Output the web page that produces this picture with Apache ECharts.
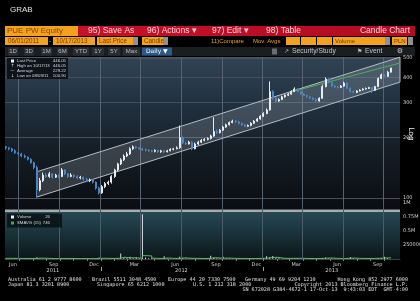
<!DOCTYPE html>
<html><head><meta charset="utf-8">
<script src="https://cdn.jsdelivr.net/npm/echarts@6/dist/echarts.min.js"></script>
<style>html,body{margin:0;padding:0;background:#000;}#c{width:420px;height:301px;}</style>
</head><body><div id="c"></div>
<script>
// ---------- DATA (weekly candles) ----------
const firstWeek = [2011, 6, 1];
const lastDate = [2013, 10, 17];
const openP = [180,178,176,172,168,166,162,160,156,150,
142,110,122,130,128,132,127,130,128,138,
132,128,130,128,126,127,124,122,123,120,
112,106,114,118,120,128,138,148,155,162,
166,176,180,178,176,174,173,172,171,173,
170,172,170,172,175,176,178,200,188,186,
190,176,186,190,194,196,198,204,215,212,
218,226,232,238,242,240,236,232,228,230,
236,242,248,256,264,275,340,315,305,310,
320,326,330,340,350,340,330,325,320,315,
310,305,315,360,392,378,362,358,356,362,
375,352,340,336,342,346,350,352,356,345,
360,395,412,405,425];
const closeP = [178,176,172,168,166,162,160,156,150,142,
110,122,130,128,132,127,130,128,138,132,
128,130,128,126,127,124,122,123,120,112,
106,114,118,120,128,138,148,155,162,166,
176,180,178,176,174,173,172,171,173,170,
172,170,172,175,176,178,200,188,186,190,
176,186,190,194,196,198,204,215,212,218,
226,232,238,242,240,236,232,228,230,236,
242,248,256,264,275,340,315,305,310,320,
326,330,340,350,340,330,325,320,315,310,
305,315,360,392,378,362,358,356,362,375,
352,340,336,342,346,350,352,356,345,360,
395,412,405,425,446.05];
const highP = [182,180,178,175,170,168,165,161,158,152,
145,126,134,133,135,133,132,131,141,139,
133,133,131,130,129,128,126,125,124,121,
114,116,120,122,130,140,150,158,165,170,
179,183,182,180,178,177,175,174,175,174,
174,173,174,177,178,181,230,203,191,193,
192,189,193,197,199,201,207,253,220,221,
229,235,241,246,245,243,238,234,233,239,
245,251,259,268,280,382,345,318,314,324,
329,334,345,357,353,343,334,328,324,319,
315,318,368,400,396,382,366,362,366,380,
378,356,344,346,349,353,356,359,358,363,
400,418,416,430,446.05];
const lowP = [174,173,170,166,164,160,158,154,148,139,
100.9,108,120,126,126,125,126,126,127,130,
126,127,126,124,124,122,120,120,118,110,
104,105,112,116,118,126,136,146,153,160,
164,174,176,174,172,171,170,169,169,168,
168,168,169,171,173,175,176,186,184,185,
173,175,184,188,192,194,196,202,208,210,
216,224,230,236,237,233,229,226,226,228,
234,240,246,254,262,273,310,300,302,308,
317,323,328,338,337,328,322,317,312,307,
302,303,313,357,374,358,354,352,354,360,
350,336,333,334,340,344,348,350,334,343,
358,392,402,403,423];
const volume = [15000,12000,10000,9000,11000,8000,10000,9000,12000,14000,
30000,15000,10000,9000,8000,10000,9000,8000,12000,9000,
8000,9000,8000,7000,9000,8000,7000,8000,9000,14000,
25000,12000,10000,9000,12000,15000,18000,100000,20000,15000,
40000,15000,30000,12000,800000,25000,15000,12000,10000,9000,
11000,50000,12000,10000,11000,14000,40000,20000,12000,10000,
15000,11000,10000,9000,10000,12000,60000,25000,15000,12000,
40000,14000,12000,10000,9000,10000,9000,8000,9000,10000,
11000,12000,14000,16000,50000,30000,55000,18000,12000,10000,
11000,12000,14000,15000,12000,10000,9000,9000,8000,9000,
10000,12000,20000,25000,15000,12000,10000,9000,10000,14000,
12000,35000,12000,10000,9000,10000,11000,10000,12000,14000,
20000,18000,40000,15000,26];
const volSma = [12000,12000,11500,11000,10500,10000,10000,9500,10000,11000,
14000,15000,13000,11000,9500,9000,9000,9000,9500,9500,
9000,8500,8500,8000,8000,8000,7500,7500,8000,9000,
12000,13000,12000,10500,10500,12000,14000,30000,28000,20000,
22000,20000,18000,16000,60000,58000,55000,15000,12000,10000,
10000,18000,16000,12000,11000,12000,18000,20000,15000,12000,
12000,12000,11000,10000,10000,11000,20000,22000,18000,14000,
16000,17000,14000,12000,10000,10000,9500,9000,9000,9000,
10000,11000,12000,14000,20000,28000,30000,28000,18000,13000,
11000,11000,12000,13000,13000,12000,10500,9500,9000,9000,
9000,10000,13000,17000,18000,15000,12000,10500,10000,11000,
12000,16000,15000,12000,10500,10000,10000,10500,11000,12000,
14000,16000,20000,20000,18000];
const priceTicks = [100, 200, 300, 400, 500];
const volTickLabels = {250000:'250000', 500000:'0.5M', 750000:'0.75M', 1000000:'1M'};
const monthLabels = ['Jun','Sep','Dec','Mar','Jun','Sep','Dec','Mar','Jun','Sep'];
const monthLabelDates = [[2011,6,17],[2011,9,17],[2011,12,17],[2012,3,17],[2012,6,17],[2012,9,17],[2012,12,17],[2013,3,17],[2013,6,17],[2013,9,17]];
const yearLabels = ['2011','2012','2013'];
const yearLabelDates = [[2011,9,15],[2012,7,1],[2013,6,5]];
const yearBreaks = [[2012,1,1],[2013,1,1]];
const quarterLines = [[2011,6,30],[2011,9,30],[2011,12,31],[2012,3,31],[2012,6,30],[2012,9,30],[2012,12,31],[2013,3,31],[2013,6,30],[2013,9,30]];
const channelDates = [[2011,8,9],[2013,11,6]];
const channelUpper = [135, 505];
const channelLower = [100.9, 379];
const trendDates = [[2013,3,4],[2013,11,6]];
const trendValues = [338, 472];
const lastPrice = 446.05;
const lastVolume = 26;
const legendRows = [['Last Price','446.05'],['High on 10/17/13','446.05'],['Average','229.22'],['Low on 08/09/11','100.90']];

// ---------- helpers ----------
const T0 = a => new Date(a[0], a[1]-1, a[2]).getTime();
const dates = closeP.map((c,i)=> i === closeP.length-1 ? T0(lastDate) : new Date(firstWeek[0], firstWeek[1]-1, firstWeek[2]+7*i).getTime());
const tMin = T0([2011,5,30]), tMax = T0([2013,11,6]);
const monthTs = monthLabelDates.map(T0), yearTs = yearLabelDates.map(T0);
const monthStarts = []; for (let y=2011,m=7; y<2013 || m<=10; ) { monthStarts.push(new Date(y,m-1,1).getTime()); m++; if (m>12){m=1;y++;} }
const lookup = (tsArr, labels) => v => { for (let k=0;k<tsArr.length;k++) if (Math.abs(tsArr[k]-v) < 43200000) return labels[k]; return ''; };

const SANS = '"Liberation Sans", Arial, sans-serif';
const DJ = '"DejaVu Sans", sans-serif';
const MONO = '"DejaVu Sans Mono", monospace';
const ORANGE = '#f2a21f', DARKTXT = '#7a3a00';
const G = [];
function R(x,y,w,h,fill,z){ G.push({type:'rect', silent:true, z:z||0, shape:{x:x,y:y,width:w,height:h}, style:{fill:fill}}); }
function T(x,y,text,size,color,align,family,z,weight){ G.push({type:'text', silent:true, z:z||10, x:x, y:y, style:{text:text, fill:color, font:(weight||'normal')+' '+size+'px '+(family||SANS), align:align||'left', verticalAlign:'middle'}}); }
const vgrad = (a,b,c) => ({type:'linear',x:0,y:0,x2:0,y2:1,colorStops:c||[{offset:0,color:a},{offset:1,color:b}]});

// title + toolbars
T(10,10,'GRAB',8,'#e4e4e4','left',SANS);
R(5,26,73,10,ORANGE);
T(7,31,'PUE PW Equity',8,'#8a4300');
R(78,26,337,10,{type:'linear',x:0,y:0,x2:1,y2:0,colorStops:[{offset:0,color:'#c8102a'},{offset:1,color:'#b00c22'}]});
T(88,31,'95) Save As',8.5,'#f6d6d8');
T(147,31,'96) Actions \u25BE',8.5,'#f6d6d8');
T(212,31,'97) Edit \u25BE',8.5,'#f6d6d8');
T(266,31,'98) Table',8.5,'#f6d6d8');
T(410,31,'Candle Chart',8.5,'#f6d6d8','right');
// row 2
R(5,37,43,8,ORANGE); T(8,41,'06/01/2011',6.3,DARKTXT);
T(49,41,'-',6.3,'#cccccc');
R(53,37,42,8,ORANGE); T(56,41,'10/17/2013',6.3,DARKTXT);
R(97,37,36,8,ORANGE); T(99,41,'Last Price',6.3,DARKTXT);
R(133,37,5,8,'#8d9298');
R(142,37,21,8,ORANGE); T(144,41,'Candle',6.3,DARKTXT);
R(163,37,5,8,'#8d9298');
T(211,41,'11)Compare',6,'#e8a030');
T(253,41,'Mov. Avgs',6,'#e8a030');
R(286,37,14,8,ORANGE); R(301,37,15,8,ORANGE); R(317,37,15,8,ORANGE);
R(333,37,52,8,ORANGE); T(335,41,'Volume',6,DARKTXT);
R(385,37,5,8,'#8d9298');
R(392,37,15,8,ORANGE); T(394,41,'PLN',6,DARKTXT);
R(408,37,5,8,'#8d9298');
// row 3
R(5,47,410,9,'#1b1e21');
[['1D',8,10],['3D',24,10],['1M',41,11],['6M',57,11],['YTD',73,16],['1Y',92,12],['5Y',108,12],['Max',123,17]].forEach(b=>{ R(b[1],47.5,b[2],8,'#2a2e33'); T(b[1]+b[2]/2,51.5,b[0],6,'#b8bcc2','center'); });
R(142,47.5,30,8,'#2a5a8c'); T(146,51.5,'Daily \u25BC',6,'#ffffff','left',DJ);
R(272,48.5,5,6,'#6a6e73');
T(284,51.5,'\u2197',6,'#c0c4c8','left',DJ);
T(292,51.5,'Security/Study',6.8,'#c0c4c8');
T(357,51.5,'\u2691',6,'#c0c4c8','left',DJ);
T(365,51.5,'Event',6.8,'#c0c4c8');
T(400,51.5,'\u2699',7,'#c0c4c8','center',DJ);
// panels
R(5,57,395,152,vgrad(null,null,[{offset:0,color:'#314354'},{offset:0.3,color:'#223140'},{offset:0.6,color:'#151e27'},{offset:1,color:'#0a0d11'}]),-5);
R(5,57,395,1,'#4c5660',-4);
R(5,209.5,395,2.5,'#a7acb1',-4);
R(5,212,395,48,vgrad('#264955','#0b1518'),-5);
// main legend
R(7,58,61,21,'rgba(10,14,18,0.88)',50);
R(11,59.5,3,3,'#f2f2f2',51);
const icons = ['', '\u2191', '\u2014', '\u2193'];
legendRows.forEach((r,k)=>{ const y=61+k*4.8; if (k>0) T(12.5,y,icons[k],4.3,'#e0e0e0','center',DJ,51); T(17,y,r[0],4.3,'#d8d8d8','left',SANS,51); T(66,y,r[1],4.3,'#d8d8d8','right',SANS,51); });
// volume legend
R(7,213.5,55,14,'rgba(8,16,20,0.85)',50);
R(11,215.5,3,3,'#f2f2f2',51); T(17,217,'Volume',4.3,'#d8d8d8','left',SANS,51); T(50,217,String(lastVolume),4.3,'#d8d8d8','right',SANS,51);
R(11,221.5,3,3,'#3fae49',51); T(17,223,'SMAVG (15)',4.3,'#d8d8d8','left',SANS,51); T(50,223,'746',4.3,'#d8d8d8','right',SANS,51);
// Log label
G.push({type:'text', silent:true, z:10, x:411, y:134, rotation:-Math.PI/2, style:{text:'Log', fill:'#e8e8e8', font:'7.5px '+DJ, align:'center', verticalAlign:'middle'}});
// footer
const FC = '#e2e2e2', FS = 5.1;
T(8,279.5,'Australia 61 2 9777 8600',FS,FC,'left',MONO);
T(92,279.5,'Brazil 5511 3048 4500',FS,FC,'left',MONO);
T(168,279.5,'Europe 44 20 7330 7500',FS,FC,'left',MONO);
T(245,279.5,'Germany 49 69 9204 1210',FS,FC,'left',MONO);
T(408,279.5,'Hong Kong 852 2977 6000',FS,FC,'right',MONO);
T(8,284.7,'Japan 81 3 3201 8900',FS,FC,'left',MONO);
T(97,284.7,'Singapore 65 6212 1000',FS,FC,'left',MONO);
T(193,284.7,'U.S. 1 212 318 2000',FS,FC,'left',MONO);
T(408,284.7,'Copyright 2013 Bloomberg Finance L.P.',FS,FC,'right',MONO);
T(408,290,'SN 672028 G384-4672-1 17-Oct-13  9:43:03 EDT  GMT-4:00',FS,FC,'right',MONO);

// ---------- chart ----------
const chT = channelDates.map(T0);
const vLineMain = quarterLines.map(q=>({xAxis: T0(q), lineStyle:{color:'#56626e', width:1, type:'solid', opacity:1}}));
const vLineVol = quarterLines.map(q=>({xAxis: T0(q)}));
const lblStyle = {fontSize:5, color:'#d0d0d0', fontFamily:DJ};
const option = {
  backgroundColor:'#000',
  animation:false,
  graphic: G,
  grid:[{left:5,right:20,top:57,height:152,outerBoundsMode:'none'},{left:5,right:20,top:203,height:56,outerBoundsMode:'none'}],
  xAxis:[
    {type:'value', gridIndex:0, min:tMin, max:tMax, show:false, scale:true},
    {type:'value', gridIndex:1, min:tMin, max:tMax, scale:true, axisLine:{show:true,lineStyle:{color:'#3a3f44'}}, splitLine:{show:false},
      axisTick:{show:true, customValues:monthStarts, length:2, lineStyle:{color:'#7a7f84'}},
      axisLabel:{customValues:monthTs, formatter:lookup(monthTs, monthLabels), fontSize:5, color:'#cfcfcf', fontFamily:DJ, margin:3, hideOverlap:false, showMinLabel:true, showMaxLabel:true}},
    {type:'value', gridIndex:1, min:tMin, max:tMax, scale:true, position:'bottom', offset:8, axisLine:{show:false}, splitLine:{show:false},
      axisTick:{show:true, customValues:yearBreaks.map(T0), length:4, lineStyle:{color:'#9a9fa4'}},
      axisLabel:{customValues:yearTs, formatter:lookup(yearTs, yearLabels), fontSize:5, color:'#cfcfcf', fontFamily:DJ, margin:1, hideOverlap:false, showMinLabel:true, showMaxLabel:true}}
  ],
  yAxis:[
    {type:'log', logBase:10, gridIndex:0, min:88.1, max:505.8, axisLine:{show:false}, axisTick:{show:false}, axisLabel:{show:false}, splitLine:{show:false}},
    {type:'value', gridIndex:1, min:0, max:1000000, interval:250000, position:'right', axisLine:{show:false}, axisTick:{show:false}, splitLine:{show:false},
      axisLabel:{fontSize:5, color:'#cfcfcf', fontFamily:DJ, margin:3, formatter: v => volTickLabels[v] || ''}}
  ],
  series:[
    {type:'custom', xAxisIndex:0, yAxisIndex:0, z:1, silent:true,
      data: chT.map((t,k)=>[t, channelUpper[k], channelLower[k]]), encode:{x:0, y:[1,2]},
      renderItem:function(params, api){
        if (params.dataIndex !== 0) return null;
        const pts = [];
        for (let k=0;k<chT.length;k++) pts.push(api.coord([chT[k], channelUpper[k]]));
        for (let k=chT.length-1;k>=0;k--) pts.push(api.coord([chT[k], channelLower[k]]));
        return {type:'polygon', shape:{points:pts}, style:{fill:'rgba(200,210,220,0.2)', stroke:'#b4bcc4', lineWidth:1}};
      }},
    {type:'line', xAxisIndex:0, yAxisIndex:0, z:2, silent:true, symbol:'none',
      data: trendDates.map((d,k)=>[T0(d), trendValues[k]]), lineStyle:{color:'#4fae55', width:1}},
    {type:'candlestick', xAxisIndex:0, yAxisIndex:0, z:3, barWidth:1.5,
      data: dates.map((t,i)=>[t, openP[i], closeP[i], lowP[i], highP[i]]),
      itemStyle:{color:'#e6ecf2', color0:'#4b86c6', borderColor:'#e6ecf2', borderColor0:'#4b86c6', borderWidth:1},
      markLine:{silent:true, z:1, symbol:['none','none'], lineStyle:{color:'#44505c', width:1, type:'solid', opacity:1},
        label:Object.assign({show:true, position:'end', distance:3}, lblStyle),
        data: priceTicks.map(v=>({yAxis:v, label:{formatter:String(v)}})).concat(
          vLineMain.map(d=>Object.assign({label:{show:false}}, d)),
          [{yAxis:lastPrice, lineStyle:{opacity:0}, label:{formatter:lastPrice.toFixed(2), backgroundColor:'#f4f4f4', color:'#111', padding:[1,1,0,1], distance:0}}])}},
    {type:'bar', xAxisIndex:1, yAxisIndex:1, z:3, barWidth:1, silent:true,
      data: dates.map((t,i)=>[t, volume[i]]), itemStyle:{color:'#d8dde2'},
      markLine:{silent:true, symbol:['none','none'], label:{show:false}, lineStyle:{color:'#4a5c66', width:1, type:'solid', opacity:1},
        data: vLineVol.concat([{yAxis:lastVolume, lineStyle:{opacity:0}, label:Object.assign({show:true, position:'end', formatter:String(lastVolume), backgroundColor:'#f4f4f4', color:'#111', padding:[1,4,0,1], distance:0}, {fontSize:5, fontFamily:DJ})}])}},
    {type:'line', xAxisIndex:1, yAxisIndex:1, z:4, silent:true, symbol:'none', step:'end',
      data: dates.map((t,i)=>[t, volSma[i]]), lineStyle:{color:'#5dbb63', width:1}}
  ]
};
const chart = echarts.init(document.getElementById('c'), null, {renderer:'canvas'});
chart.setOption(option);
</script>
</body></html>
